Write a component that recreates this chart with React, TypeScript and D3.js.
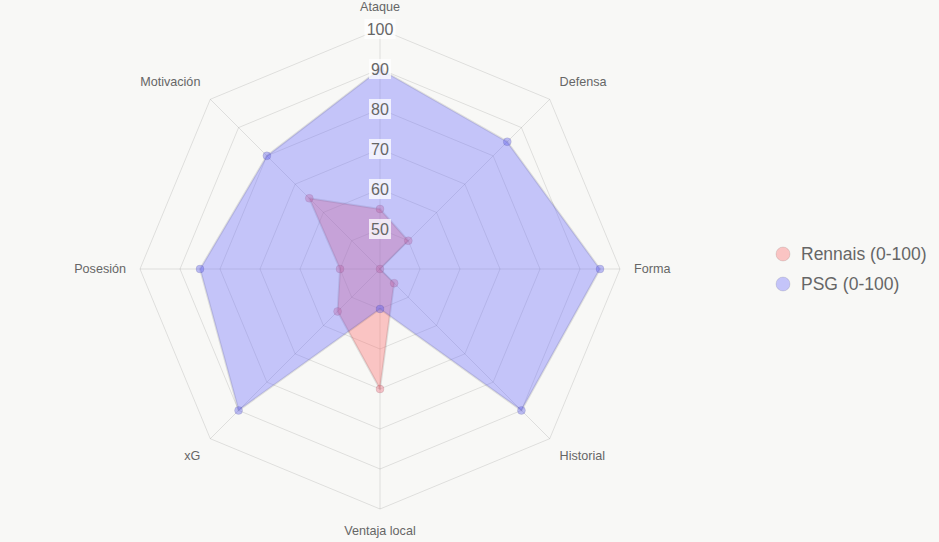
import { useEffect, useRef } from "react";
import * as d3 from "d3";

const axes = ["Ataque", "Defensa", "Forma", "Historial", "Ventaja local", "xG", "Posesión", "Motivación"];
const rennais = [55, 50, 40, 45, 70, 55, 50, 65];
const psg = [90, 85, 95, 90, 50, 90, 85, 80];
const ticks = [50, 60, 70, 80, 90, 100];
const seriesNames = ["Rennais (0-100)", "PSG (0-100)"];

export default function App() {
  const ref = useRef<SVGSVGElement>(null);

  useEffect(() => {
    if (!ref.current) return;
    const svg = d3.select(ref.current);
    svg.selectAll("*").remove();

    const width = 939;
    const height = 542;
    const cx = 380;
    const cy = 269;
    const radius = 240;
    const font = "'Liberation Sans', Arial, sans-serif";

    svg.append("rect").attr("width", width).attr("height", height).attr("fill", "#f8f8f6");

    const r = d3.scaleLinear().domain([40, 100]).range([0, radius]);
    const angle = (i: number) => (i / axes.length) * 2 * Math.PI;
    const pt = (i: number, v: number): [number, number] => [
      cx + r(v) * Math.sin(angle(i)),
      cy - r(v) * Math.cos(angle(i)),
    ];

    const g = svg.append("g");

    // grid rings
    ticks.forEach((t) => {
      const pts = axes.map((_, i) => pt(i, t));
      g.append("path")
        .attr("d", d3.line()(pts)! + "Z")
        .attr("fill", "none")
        .attr("stroke", "rgba(0,0,0,0.1)")
        .attr("stroke-width", 1);
    });

    // spokes
    axes.forEach((_, i) => {
      const [x, y] = pt(i, 100);
      g.append("line")
        .attr("x1", cx).attr("y1", cy)
        .attr("x2", x).attr("y2", y)
        .attr("stroke", "rgba(0,0,0,0.1)");
    });

    // point labels
    axes.forEach((name, i) => {
      const [x, y] = pt(i, 100);
      const a = angle(i);
      const s = Math.sin(a);
      const c = Math.cos(a);
      let anchor = "middle";
      if (s > 0.1) anchor = "start";
      if (s < -0.1) anchor = "end";
      const lx = x + s * 14;
      let ly = y - c * 16;
      if (c > 0.1) ly -= 6;
      if (c < -0.1) ly += 6;
      g.append("text")
        .attr("x", lx)
        .attr("y", ly)
        .attr("dy", "0.35em")
        .attr("text-anchor", anchor)
        .attr("font-family", font)
        .attr("font-size", 12.6)
        .attr("fill", "#666")
        .text(name);
    });

    const colors = [
      { fill: "rgba(255,99,99,0.35)", point: "rgba(235,90,110,0.35)" },
      { fill: "rgba(99,99,255,0.35)", point: "rgba(90,90,235,0.4)" },
    ];

    [rennais, psg].forEach((vals, k) => {
      const pts = vals.map((v, i) => pt(i, v));
      g.append("path")
        .attr("d", d3.line()(pts)! + "Z")
        .attr("fill", colors[k].fill)
        .attr("stroke", "rgba(0,0,0,0.1)")
        .attr("stroke-width", 2)
        .attr("stroke-linejoin", "round");
      pts.forEach(([x, y]) => {
        g.append("circle")
          .attr("cx", x).attr("cy", y).attr("r", 4)
          .attr("fill", colors[k].point)
          .attr("stroke", "rgba(0,0,0,0.08)")
          .attr("stroke-width", 1);
      });
    });

    // tick labels
    ticks.forEach((t) => {
      const y = cy - r(t);
      const label = String(t);
      const w = label.length * 9 + 4;
      g.append("rect")
        .attr("x", cx - w / 2)
        .attr("y", y - 10)
        .attr("width", w)
        .attr("height", 20)
        .attr("fill", "rgba(255,255,255,0.75)");
      g.append("text")
        .attr("x", cx)
        .attr("y", y)
        .attr("dy", "0.36em")
        .attr("text-anchor", "middle")
        .attr("font-family", font)
        .attr("font-size", 16)
        .attr("fill", "#666")
        .text(label);
    });

    // legend
    const legend = svg.append("g");
    seriesNames.forEach((name, k) => {
      const y = 254 + k * 30;
      legend.append("circle")
        .attr("cx", 783).attr("cy", y).attr("r", 7)
        .attr("fill", colors[k].fill)
        .attr("stroke", "rgba(0,0,0,0.1)");
      legend.append("text")
        .attr("x", 801).attr("y", y)
        .attr("dy", "0.35em")
        .attr("font-family", font)
        .attr("font-size", 17.5)
        .attr("fill", "#666")
        .text(name);
    });
  }, []);

  return (
    <svg
      ref={ref}
      width={939}
      height={542}
      style={{ position: "absolute", left: 0, top: 0, display: "block" }}
    />
  );
}
